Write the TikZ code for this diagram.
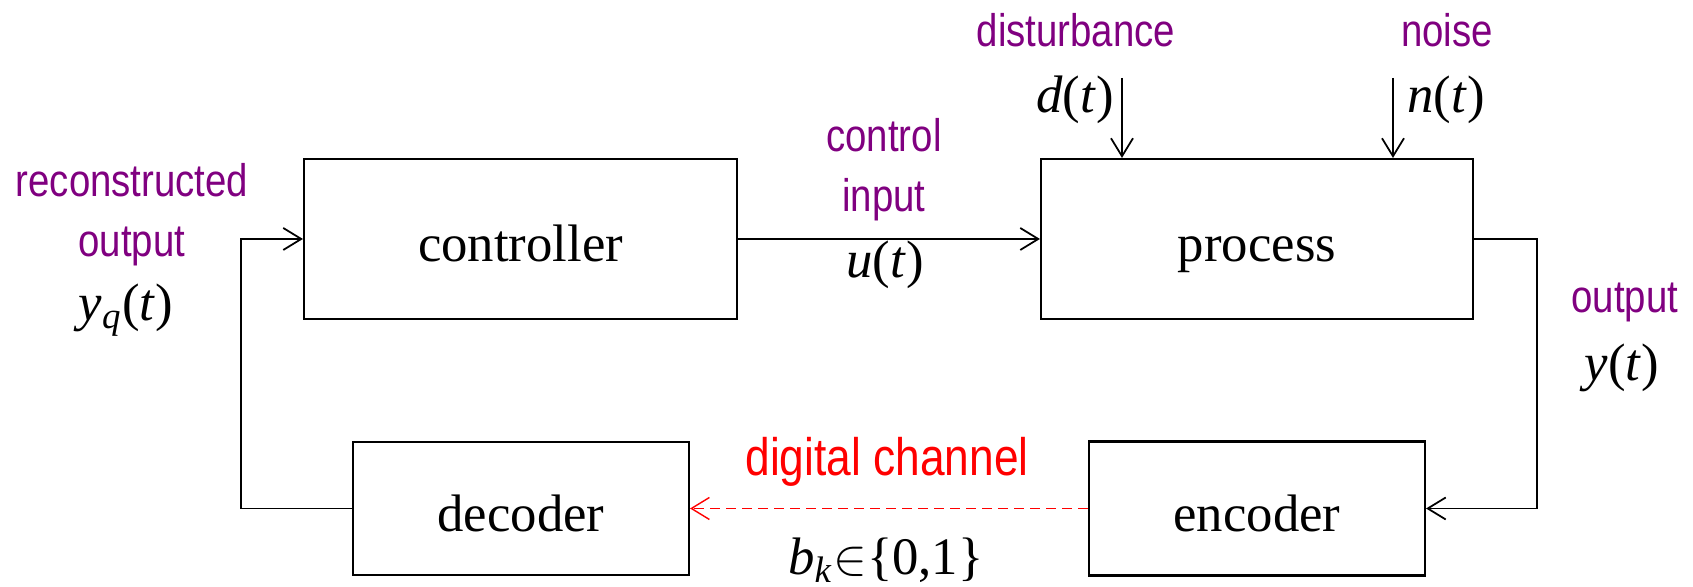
\documentclass[tikz,border=0pt]{standalone}
\usepackage{fontspec}
\setmainfont{Liberation Serif}
\newfontfamily\tagfont[FakeStretch=0.84]{Liberation Sans}
\usetikzlibrary{arrows.meta}
\definecolor{tagpurple}{RGB}{128,0,128}
\definecolor{chanred}{RGB}{255,0,0}

\begin{document}
\begin{tikzpicture}[x=1cm,y=1cm,line width=0.5pt,
  >={Straight Barb[length=1.8mm,width=2.2mm]},
  block/.style={draw,line width=0.6pt,inner sep=0pt,text height=0.46cm,text depth=0cm,font=\fontsize{15}{18}\selectfont},
  tag/.style={text=tagpurple,align=center,inner sep=0pt,font=\tagfont\fontsize{13}{17}\selectfont},
  sig/.style={inner sep=0pt,font=\fontsize{15}{18}\selectfont}]
\useasboundingbox (0,0) rectangle (16.93,5.87);

% loop blocks
\node[block,minimum width=4.33cm,minimum height=1.60cm] (controller) at (5.205,3.48) {controller};
\node[block,minimum width=4.32cm,minimum height=1.60cm] (process) at (12.57,3.48) {process};
\node[block,minimum width=3.36cm,minimum height=1.33cm] (decoder) at (5.21,0.785) {decoder};
\node[block,minimum width=3.36cm,minimum height=1.34cm] (encoder) at (12.57,0.785) {encoder};

% signal names
\node[tag] (yqtag) at (1.32,3.72) {reconstructed\\output};
\node[sig] (yq) at (1.26,2.77) {\textit{y}\textsubscript{\textit{q}}(\textit{t})};
\node[tag] (utag) at (8.84,4.17) {control\\input};
\node[sig] (u) at (8.85,3.22) {\textit{u}(\textit{t})};
\node[tag] (dtag) at (10.76,5.57) {disturbance};
\node[sig] (d) at (10.75,4.87) {\textit{d}(\textit{t})};
\node[tag] (ntag) at (14.47,5.57) {noise};
\node[sig] (n) at (14.46,4.87) {\textit{n}(\textit{t})};
\node[tag] (ytag) at (16.25,2.85) {output};
\node[sig] (y) at (16.22,2.19) {\textit{y}(\textit{t})};
\node[tag,text=chanred,font=\tagfont\fontsize{15}{18}\selectfont] (chantag) at (8.87,1.25) {digital channel};
\node[sig] (bk) at (8.86,0.27) {\textit{b}\textsubscript{\textit{k}}$\in$\{0,1\}};

% disturbance and noise inputs
\coordinate (dtop) at (11.22,5.09);
\coordinate (ntop) at (13.93,5.09);
\draw[->] (dtop) -- (dtop |- process.north);
\draw[->] (ntop) -- (ntop |- process.north);

% forward path
\draw[->] (controller.east) -- (process.west);

% measurement and channel
\coordinate (yturn) at (15.37,3.48);
\draw[->] (process.east) -- (yturn) |- (encoder.east);
\draw[->,chanred,line width=0.4pt,dash pattern=on 1mm off 0.6mm] (encoder.west) -- (decoder.east);

% back to the controller
\coordinate (yqturn) at (2.41,0.785);
\draw[->] (decoder.west) -- (yqturn) |- (controller.west);
\end{tikzpicture}
\end{document}
